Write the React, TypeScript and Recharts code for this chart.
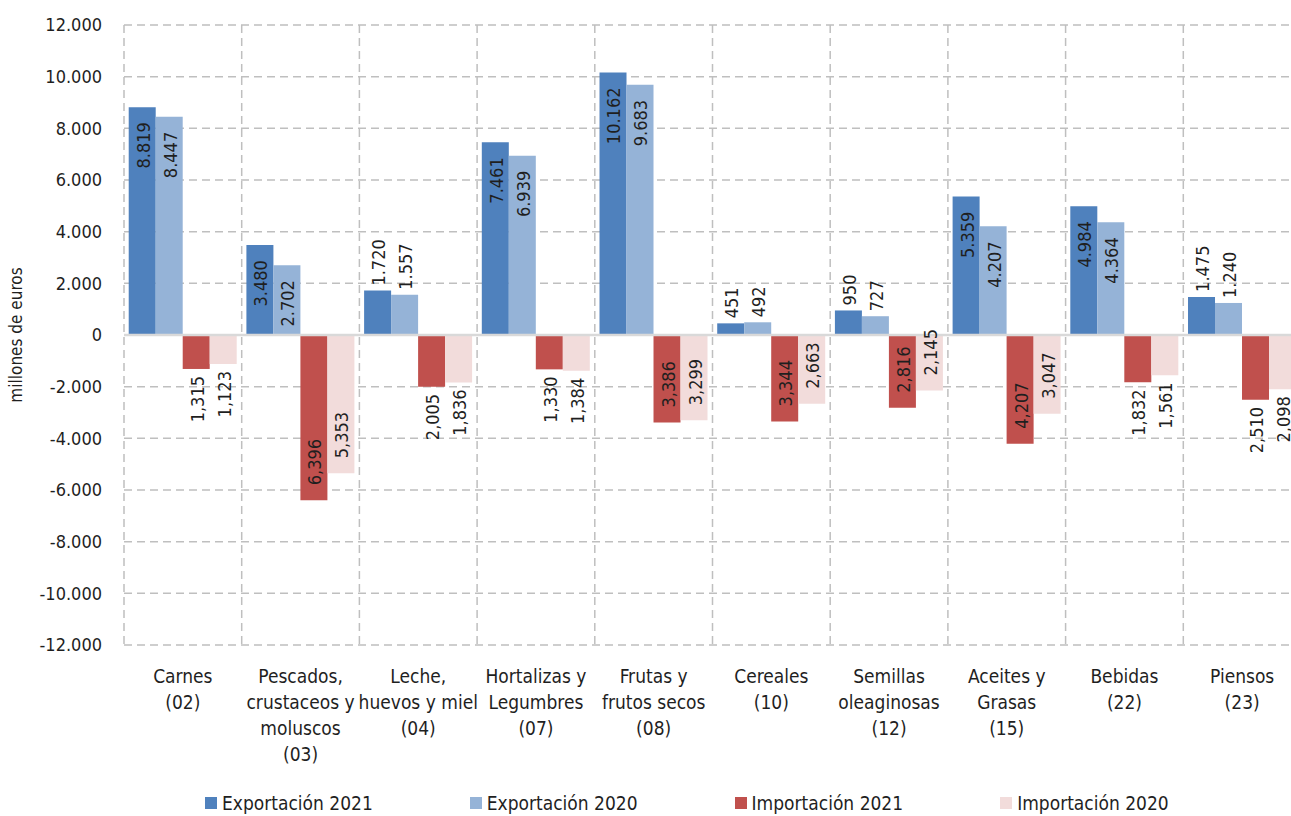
import React from "react";
import {
  BarChart,
  Bar,
  XAxis,
  YAxis,
  CartesianGrid,
  ReferenceLine,
  LabelList,
} from "recharts";

// Categorías (capítulos arancelarios)
const categories = [
  "Carnes\n(02)",
  "Pescados,\ncrustaceos y\nmoluscos\n(03)",
  "Leche,\nhuevos y miel\n(04)",
  "Hortalizas y\nLegumbres\n(07)",
  "Frutas y\nfrutos secos\n(08)",
  "Cereales\n(10)",
  "Semillas\noleaginosas\n(12)",
  "Aceites y\nGrasas\n(15)",
  "Bebidas\n(22)",
  "Piensos\n(23)",
];

// millones de euros
const export2021 = [8819, 3480, 1720, 7461, 10162, 451, 950, 5359, 4984, 1475];
const export2020 = [8447, 2702, 1557, 6939, 9683, 492, 727, 4207, 4364, 1240];
const import2021 = [-1315, -6396, -2005, -1330, -3386, -3344, -2816, -4207, -1832, -2510];
const import2020 = [-1123, -5353, -1836, -1384, -3299, -2663, -2145, -3047, -1561, -2098];

const yTicks = [-12000, -10000, -8000, -6000, -4000, -2000, 0, 2000, 4000, 6000, 8000, 10000, 12000];

const series = [
  { key: "exp21", name: "Exportación 2021", color: "#4f81bd" },
  { key: "exp20", name: "Exportación 2020", color: "#95b3d7" },
  { key: "imp21", name: "Importación 2021", color: "#c0504d" },
  { key: "imp20", name: "Importación 2020", color: "#f2dcdb" },
];

const data = categories.map((name, i) => ({
  name,
  exp21: export2021[i],
  exp20: export2020[i],
  imp21: import2021[i],
  imp20: import2020[i],
}));

const FONT = "'DejaVu Sans Condensed', 'Liberation Sans Narrow', 'Roboto', sans-serif";
const TEXT = "#1f1f1f";

// miles con separador
const fmt = (v: number, sep: string): string => {
  const a = Math.abs(v);
  const s = a >= 1000 ? `${Math.floor(a / 1000)}${sep}${String(a % 1000).padStart(3, "0")}` : String(a);
  return v < 0 ? `-${s}` : s;
};

// etiqueta vertical de cada barra (dentro si la barra es larga, fuera si no)
const renderLabel = (props: any) => {
  const { x, y, width, height, value } = props;
  if (value == null) return null;
  const top = Math.min(y, y + height);
  const bottom = Math.max(y, y + height);
  const len = bottom - top;
  const cx = x + width / 2 + 1;
  const inside = len >= 55 && len < 60 ? true : len >= 68;
  let ay: number;
  let anchor: "start" | "end";
  if (value >= 0) {
    if (inside) {
      ay = top + 15;
      anchor = "end";
    } else {
      ay = top - 5;
      anchor = "start";
    }
  } else {
    if (inside) {
      ay = bottom - 15;
      anchor = "start";
    } else {
      ay = bottom + 7;
      anchor = "end";
    }
  }
  const text = value >= 0 ? fmt(value, ".") : fmt(Math.abs(value), ",");
  return (
    <text
      x={cx}
      y={ay}
      transform={`rotate(-90 ${cx} ${ay})`}
      textAnchor={anchor}
      dominantBaseline="central"
      fontSize={18}
      fontFamily={FONT}
      fill={TEXT}
    >
      {text}
    </text>
  );
};

const CategoryTick = (props: any) => {
  const { x, y, payload } = props;
  const lines = String(payload.value).split("\n");
  return (
    <text x={x} y={y + 30} textAnchor="middle" fontSize={19} fontFamily={FONT} fill={TEXT}>
      {lines.map((l, i) => (
        <tspan key={i} x={x} dy={i === 0 ? 0 : 26}>
          {l}
        </tspan>
      ))}
    </text>
  );
};

const App: React.FC = () => {
  return (
    <div
      style={{
        position: "absolute",
        left: 0,
        top: 0,
        width: 1291,
        height: 816,
        overflow: "hidden",
        background: "#fff",
        fontFamily: FONT,
      }}
    >
      <BarChart
        width={1320}
        height={816}
        data={data}
        margin={{ top: 25, right: 19, left: 0, bottom: 31 }}
        barCategoryGap="4%"
        barGap={0}
      >
        <CartesianGrid
          stroke="#bfbfbf"
          strokeWidth={1.5}
          strokeDasharray="8 5"
          verticalCoordinatesGenerator={({ offset }: any) => {
            const left = offset?.left ?? 124;
            const w = offset?.width ?? 1177;
            return categories.map((_, i) => left + (i * w) / categories.length).concat(left + w);
          }}
        />
        <XAxis
          dataKey="name"
          interval={0}
          tickLine={false}
          axisLine={false}
          height={140}
          tick={<CategoryTick />}
        />
        <YAxis
          width={124}
          domain={[-12000, 12000]}
          ticks={yTicks}
          interval={0}
          tickLine={false}
          axisLine={false}
          tickMargin={16}
          tickFormatter={(v: number) => fmt(v, ".")}
          tick={{ fontSize: 18, fill: TEXT, fontFamily: FONT }}
          label={{
            value: "millones de euros",
            angle: -90,
            position: "insideLeft",
            offset: 16,
            style: { fontSize: 17, fill: TEXT, fontFamily: FONT, textAnchor: "middle" },
          }}
        />
        {series.map((s) => (
          <Bar key={s.key} dataKey={s.key} name={s.name} fill={s.color} isAnimationActive={false}>
            <LabelList dataKey={s.key} content={renderLabel} />
          </Bar>
        ))}
        <ReferenceLine y={0} stroke="#d9d9d9" strokeWidth={2.5} />
      </BarChart>

      {/* leyenda */}
      <div
        style={{
          position: "absolute",
          left: 205,
          top: 792,
          display: "flex",
          alignItems: "center",
          gap: 97,
          fontSize: 19,
          color: TEXT,
          whiteSpace: "nowrap",
        }}
      >
        {series.map((s) => (
          <div key={s.key} style={{ display: "flex", alignItems: "center" }}>
            <span style={{ display: "inline-block", width: 12, height: 12, background: s.color, marginRight: 5 }} />
            <span>{s.name}</span>
          </div>
        ))}
      </div>
    </div>
  );
};

export default App;
